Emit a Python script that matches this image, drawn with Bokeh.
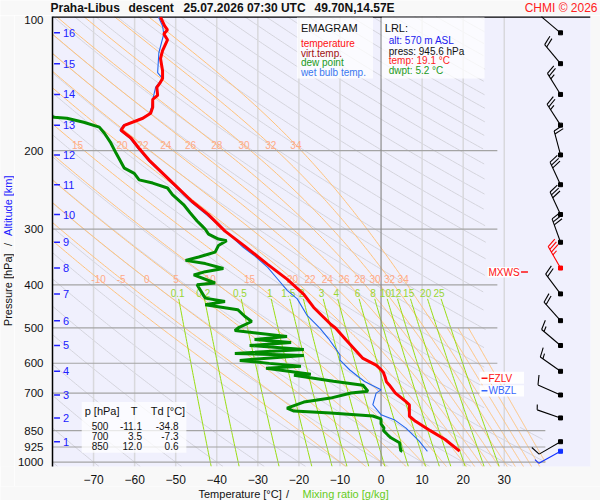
import numpy as np
from bokeh.plotting import figure
from bokeh.layouts import column, row
from bokeh.models import Range1d, FixedTicker, CustomJSTickFormatter
from bokeh.core.properties import value
from bokeh.embed import file_html
from bokeh.resources import INLINE

FONT = "Liberation Sans"

# ---------------- sounding data ----------------
temp_p = [100.3, 105.0, 107.2, 109.4, 112.8, 119.3, 124.3, 132.3, 137.8, 141.3, 144.2, 150.3,
          153.5, 159.9, 164.9, 169.2, 175.5, 180.0, 187.4, 197.3, 210.0, 236.0, 260.1, 278.0,
          303.2, 327.6, 359.5, 388.6, 420.3, 449.7, 491.2, 500.0, 532.3, 585.2, 606.0, 620.0,
          630.0, 645.0, 660.0, 671.0, 700.0, 731.0, 744.0, 789.0, 810.0, 850.0, 890.0, 941.0, 945.6]
temp_t = [-53.7, -52.7, -52.0, -52.9, -52.0, -53.2, -53.7, -53.2, -53.2, -53.9, -54.6, -54.4,
          -55.6, -55.6, -56.1, -58.0, -62.5, -63.3, -60.9, -59.0, -56.5, -50.8, -46.0, -42.1,
          -38.0, -33.2, -27.7, -22.9, -18.8, -16.4, -12.2, -11.1, -8.5, -4.4, -1.2, 0.0,
          0.6, 1.0, 1.3, 2.0, 3.5, 6.0, 6.9, 6.9, 8.4, 12.0, 15.6, 18.9, 19.1]

dewp_p = [166.5, 168.3, 169.2, 172.7, 177.1, 182.6, 192.2, 202.8, 219.0, 224.9, 232.6, 236.5,
          242.6, 251.0, 264.2, 275.6, 287.6, 295.1, 300.2, 307.8, 315.8, 318.5, 326.6, 338.0,
          346.6, 352.6, 358.5, 367.6, 373.8, 380.2, 396.4, 399.8, 428.6, 436.0, 443.4, 455.0,
          470.7, 483.6, 500.0, 506.9, 522.7, 530.8, 539.0, 547.4, 558.7, 570.3, 576.2, 591.2,
          600.4, 609.7, 616.0, 635.2, 638.5, 658.4, 672.1, 693.1, 700.0, 718.4, 733.3, 756.3,
          768.0, 775.9, 787.9, 800.1, 820.9, 837.9, 850.0, 868.5, 881.9, 904.8, 942.8, 945.6]
dewp_t = [-81.0, -79.6, -76.5, -72.4, -68.6, -67.4, -65.8, -64.5, -62.5, -60.1, -58.9, -55.6,
          -52.0, -50.8, -48.1, -46.5, -44.8, -43.6, -42.8, -42.0, -39.6, -37.6, -39.6, -40.4,
          -44.4, -47.6, -42.8, -38.4, -42.8, -45.6, -40.4, -44.8, -42.8, -38.0, -42.8, -34.9,
          -33.2, -31.5, -34.8, -35.6, -22.9, -30.8, -21.9, -32.0, -18.8, -35.6, -18.8, -34.4,
          -27.2, -19.5, -28.0, -17.1, -21.2, -11.6, -4.4, -3.2, -7.3, -12.3, -18.8, -22.9,
          -21.2, -12.3, -2.0, 0.0, 0.0, 0.7, 0.6, 1.6, 2.4, 4.5, 4.8, 5.2]

wetb_p = [100.3, 105.0, 109.4, 120.6, 133.6, 137.8, 144.2, 153.8, 160.0, 165.0, 169.2, 175.5,
          180.0, 187.4, 197.3, 210.0, 236.0, 260.1, 278.0, 300.6, 330.0, 344.5, 365.6, 388.2,
          412.2, 430.2, 468.6, 501.7, 528.1, 560.8, 575.0, 590.3, 621.3, 642.7, 659.4, 688.4,
          700.2, 743.5, 782.6, 803.0, 837.9, 897.0, 944.2, 945.6]
wetb_t = [-54.2, -53.2, -52.9, -54.1, -54.4, -53.2, -54.9, -55.6, -55.9, -56.4, -58.3, -62.8,
          -63.6, -61.2, -59.3, -56.8, -51.1, -46.4, -42.6, -38.3, -33.5, -30.8, -27.6, -25.2,
          -22.8, -20.4, -18.0, -14.8, -12.8, -10.8, -10.0, -10.0, -7.6, -5.6, -4.0, 0.0,
          -1.2, -2.0, 0.0, 3.2, 6.0, 9.3, 11.2, 11.3]

# altitude scale (km -> hPa)
alt_km = [1, 2, 3, 4, 5, 6, 7, 8, 9, 10, 11, 12, 13, 14, 15, 16]
alt_p = [900.0, 796.0, 707.0, 625.5, 547.4, 481.5, 419.3, 366.9, 321.1, 278.2, 238.5, 204.5,
         175.3, 149.6, 127.6, 108.8]

# winds: surface + every km
wind_p = [945.6] + alt_p
wind_dir = [241, 240, 289, 294, 305, 310, 318, 323, 330, 340, 335, 335, 345, 327, 328, 320, 310]
wind_kt = [5, 10, 5, 10, 15, 15, 20, 20, 35, 30, 30, 30, 20, 25, 25, 20, 10]
max_wind_km = 8

# surface (LRL) values
lrl_alt, lrl_p, lrl_t, lrl_td = 570, 945.6, 19.1, 5.2

# table
table_p = [500, 700, 850]
table_t = [-11.1, 3.5, 12.0]
table_td = [-34.8, -7.3, 0.6]

# freezing / wet-bulb-zero levels (hPa)
fzlv_p, wbzl_p = 648.0, 692.0

# tick labels / chart furniture values
pressure_ticks = [100, 200, 300, 400, 500, 600, 700, 850, 925, 1000]
temp_ticks = [-70, -60, -50, -40, -30, -20, -10, 0, 10, 20, 30]
moist_thw = [-10, -5, 0, 5, 10, 15, 20, 22, 24, 26, 28, 30, 32, 34]
moist_low_only = [36, 38, 40]
moist_upper_labels = [15, 20, 22, 24, 26, 28, 30, 32, 34]
mix_ratios = [0.1, 0.2, 0.5, 1, 1.5, 2, 3, 4, 6, 8, 10, 12, 15, 20, 25]
mix_labels = ["0.1", "0.2", "0.5", "1", "1.5", "2", "3", "4", "6", "8", "10", "12", "15", "20", "25"]

# ---------------- layout ----------------
T_MIN, T_MAX = -80.0, 51.0
P_TOP, P_BOT = 100.0, 1023.0
TOTAL_W, TOTAL_H = 600, 500
TOP_H, BOT_H = 15, 14
LEFT_W = 14
MW, MH = TOTAL_W - LEFT_W, TOTAL_H - TOP_H - BOT_H
BL, BR, BT, BB = 31, 10, 1, 17
FW = MW - BL - BR
FH = MH - BT - BB
KX = FW / (T_MAX - T_MIN)
KY = FH / np.log(P_BOT / P_TOP)
BORDER = "#f8f8f8"


def rT(x):  # reference pixel x -> temperature
    return (x - 378.2) / 4.16


def rP(y):  # reference pixel y -> pressure
    return float(100.0 * np.exp((y - 15.5) / 195.0))


def shift(T, pr, dx, dy):
    return T + dx / KX, pr * np.exp(dy / KY)


p = figure(width=MW, height=MH, x_range=Range1d(T_MIN, T_MAX), y_range=Range1d(P_BOT, P_TOP),
           y_axis_type="log", output_backend="svg", toolbar_location=None,
           min_border_left=BL, min_border_right=BR, min_border_top=BT, min_border_bottom=BB,
           background_fill_color="#f0f0fd", border_fill_color=BORDER, outline_line_color=None)
p.xgrid.visible = False
p.ygrid.visible = False

p.xaxis.ticker = FixedTicker(ticks=temp_ticks, minor_ticks=[])
p.xaxis.axis_line_color = None
p.xaxis.major_tick_line_color = None
p.xaxis.minor_tick_line_color = None
p.xaxis.major_label_standoff = 2
p.xaxis.major_label_text_font = FONT
p.xaxis.major_label_text_font_size = "12px"
p.xaxis.major_label_text_color = "#111111"

p.yaxis.ticker = FixedTicker(ticks=pressure_ticks, minor_ticks=[])
p.yaxis.formatter = CustomJSTickFormatter(code="return String(Math.round(tick));")
p.yaxis.axis_line_color = "black"
p.yaxis.axis_line_width = 1.5
p.yaxis.major_tick_line_color = None
p.yaxis.minor_tick_line_color = None
p.yaxis.major_label_standoff = 3
p.yaxis.major_label_text_font = FONT
p.yaxis.major_label_text_font_size = "11.5px"
p.yaxis.major_label_text_color = "#111111"

# ---------------- thermodynamic background ----------------
pp = np.geomspace(P_TOP, P_BOT, 300)

dxs, dys = [], []
for th in range(-80, 320, 10):
    T = (th + 273.15) * (pp / 1000.0) ** 0.2857 - 273.15
    lim = np.where(pp >= 830, 40.0, 25.5)
    T = np.where((T <= lim) & (T >= T_MIN - 5), T, np.nan)
    if np.all(np.isnan(T)):
        continue
    dxs.append(list(T))
    dys.append(list(pp))
p.multi_line(dxs, dys, line_color="#d4d4dc", line_width=1)

iso = [t for t in temp_ticks if t != 0]
p.segment(x0=iso, y0=[P_BOT] * len(iso), x1=iso, y1=[P_TOP] * len(iso),
          line_color="#d8d8dc", line_width=1.5)

Rd, Cp, Lv, EPS = 287.04, 1005.7, 2.501e6, 0.622


def esat(Tk):
    return 6.112 * np.exp(17.67 * (Tk - 273.15) / (Tk - 29.65))


def dTdp(pr, Tk):
    es = esat(Tk)
    rs = EPS * es / (pr - es)
    return (Rd * Tk + Lv * rs) / (pr * (Cp + Lv * Lv * rs * EPS / (Rd * Tk * Tk)))


def integ(ps, T0):
    T = np.empty_like(ps)
    T[0] = T0
    for i in range(1, len(ps)):
        h = ps[i] - ps[i - 1]
        p0, t0 = ps[i - 1], T[i - 1]
        k1 = dTdp(p0, t0)
        k2 = dTdp(p0 + h / 2, t0 + h * k1 / 2)
        k3 = dTdp(p0 + h / 2, t0 + h * k2 / 2)
        k4 = dTdp(p0 + h, t0 + h * k3)
        T[i] = t0 + h * (k1 + 2 * k2 + 2 * k3 + k4) / 6
    return T


def pseudo(thw):
    up = np.linspace(1000.0, 100.0, 361)
    dn = np.linspace(1000.0, 1030.0, 13)
    Tu = integ(up, thw + 273.15)
    Td_ = integ(dn, thw + 273.15)
    ps = np.concatenate([up[::-1], dn[1:]])
    Ts = np.concatenate([Tu[::-1], Td_[1:]]) - 273.15
    return ps, Ts


mxs, mys = [], []
moist_curves = {}
for thw in moist_thw + moist_low_only:
    ps, Ts = pseudo(thw)
    moist_curves[thw] = (ps, Ts)
    Tm = np.where(Ts <= 40.0, Ts, np.nan)
    if thw in moist_low_only:
        Tm = np.where(ps >= 500.0, Tm, np.nan)
    mxs.append(list(Tm))
    mys.append(list(ps))
p.multi_line(mxs, mys, line_color="#ffc27a", line_width=1)

MIX_TOP = rP(300)
pm = np.geomspace(MIX_TOP, P_BOT, 60)


def td_of(w, pr):
    e = w * pr / (622.0 + w)
    l = np.log(e / 6.112)
    return 243.5 * l / (17.67 - l)


wxs, wys = [], []
for w in mix_ratios:
    wxs.append(list(td_of(w, pm)))
    wys.append(list(pm))
p.multi_line(wxs, wys, line_color="#99dd11", line_width=1)

upper_iso = [pr for pr in pressure_ticks if 100 < pr <= 700]
lower_iso = [pr for pr in pressure_ticks if pr > 700]
p.segment(x0=[T_MIN] * len(upper_iso), y0=upper_iso, x1=[rT(496)] * len(upper_iso), y1=upper_iso,
          line_color="#a4a4a4", line_width=1.2)
p.segment(x0=[T_MIN] * len(lower_iso), y0=lower_iso, x1=[40.0] * len(lower_iso), y1=lower_iso,
          line_color="#a4a4a4", line_width=1.2)
p.segment(x0=[0], y0=[P_BOT], x1=[0], y1=[P_TOP], line_color="#8c8c8c", line_width=1.2)
p.segment(x0=[T_MIN], y0=[P_TOP], x1=[T_MAX], y1=[P_TOP], line_color="black", line_width=2.5)


def interp_T(thw, pr):
    ps, Ts = moist_curves[thw]
    return float(np.interp(pr, ps, Ts))


pl_low, pl_up = rP(280), rP(145)
p.text(x=[interp_T(t, pl_low) for t in moist_thw], y=[pl_low] * len(moist_thw),
       text=[str(t) for t in moist_thw], text_color="#ffaa88", text_font=value(FONT),
       text_font_size="10px", text_align="center", text_baseline="middle")
p.text(x=[interp_T(t, pl_up) for t in moist_upper_labels], y=[pl_up] * len(moist_upper_labels),
       text=[str(t) for t in moist_upper_labels], text_color="#ffaa88", text_font=value(FONT),
       text_font_size="10px", text_align="center", text_baseline="middle")
pl_mix = rP(294)
p.text(x=[float(td_of(w, pl_mix)) for w in mix_ratios], y=[pl_mix] * len(mix_ratios),
       text=mix_labels, text_color="#99d633", text_font=value(FONT),
       text_font_size="10px", text_align="center", text_baseline="middle")

# ---------------- boxes & texts ----------------
def box(x0, x1, y0, y1, alpha=0.75):
    p.quad(left=[rT(x0)], right=[rT(x1)], top=[rP(y0)], bottom=[rP(y1)],
           fill_color="white", fill_alpha=alpha, line_color=None)


def txt(x, y, s, color, size="10px", align="left", style="normal"):
    p.text(x=[rT(x)], y=[rP(y)], text=[s], text_color=color, text_font=value(FONT),
           text_font_size=size, text_align=align, text_baseline="middle", text_font_style=style)


box(293, 370, 16.5, 78)
box(379, 483, 16.5, 78)
box(75, 181, 404, 455)

txt(297, 27, "EMAGRAM", "#111111", "11px")
txt(297, 42.3, "temperature", "#ff1111")
txt(297, 52.3, "virt.temp.", "#a01010")
txt(297, 62.3, "dew point", "#1a9a1a")
txt(297, 72.3, "wet bulb temp.", "#3a78f0")

txt(382, 27, "LRL:", "#111111", "11px")
txt(386, 40, f"alt: {lrl_alt} m ASL", "#2020ee")
txt(386, 50.3, f"press: {lrl_p} hPa", "#111111")
txt(386, 60.3, f"temp: {lrl_t} °C", "#ff2222")
txt(386, 70.3, f"dwpt: {lrl_td} °C", "#1a9a1a")

txt(78, 413, "p [hPa]", "#111111", "11px")
txt(128, 413, "T", "#111111", "11px", "center")
txt(145, 413, "Td [°C]", "#111111", "11px")
for i, (pv, tv, dv) in enumerate(zip(table_p, table_t, table_td)):
    yy = 428 + 10 * i
    txt(102, yy, str(pv), "#111111", "10px", "right")
    txt(136, yy, f"{tv:.1f}", "#111111", "10px", "right")
    txt(173, yy, f"{dv:.1f}", "#111111", "10px", "right")

p.segment(x0=[rT(47)] * len(alt_p), y0=alt_p, x1=[rT(53)] * len(alt_p), y1=alt_p,
          line_color="#2020ff", line_width=1.5)
p.text(x=[rT(56)] * len(alt_p), y=alt_p, text=[str(k) for k in alt_km], text_color="#2020ff",
       text_font=value(FONT), text_font_size="11px", text_align="left", text_baseline="middle")

box(478, 523, 373.5, 385.5, 0.9)
box(478, 523, 387, 398.5, 0.9)
fy = 15.5 + 195 * np.log(fzlv_p / 100)
wy = 15.5 + 195 * np.log(wbzl_p / 100)
p.segment(x0=[rT(480)], y0=[fzlv_p], x1=[rT(486)], y1=[fzlv_p], line_color="#ff1111", line_width=1.5)
p.segment(x0=[rT(480)], y0=[wbzl_p], x1=[rT(486)], y1=[wbzl_p], line_color="#3366ff", line_width=1.5)
txt(487, fy, "FZLV", "#ff1111")
txt(487, wy, "WBZL", "#3366ff")

mx_p = alt_p[alt_km.index(max_wind_km)]
my = 15.5 + 195 * np.log(mx_p / 100) + 4
box(486, 518, my - 5, my + 5.5, 0.9)
txt(487, my, "MXWS", "#ff1111")
p.segment(x0=[rT(520)], y0=[rP(my)], x1=[rT(527)], y1=[rP(my)], line_color="#ff1111", line_width=1.5)

# ---------------- sounding curves ----------------
p.line(wetb_t, wetb_p, line_color="#2266ee", line_width=1.1)
p.line(dewp_t, dewp_p, line_color="#008a00", line_width=3)
p.line(temp_t, temp_p, line_color="#ff0000", line_width=3)

# ---------------- wind barbs ----------------
TB = rT(560)
sx0, sy0, sx1, sy1, scol = [], [], [], [], []
dot_col = []
for k, (pw, d, s) in enumerate(zip(wind_p, wind_dir, wind_kt)):
    if k == 0:
        col = "#1030ff"
    elif alt_km[k - 1] == max_wind_km:
        col = "#ff0000"
    else:
        col = "#000000"
    dot_col.append(col)
    th = np.deg2rad(d)
    ux, uy = np.sin(th), -np.cos(th)
    qx, qy = -uy, ux
    lean = np.deg2rad(18)
    bx = qx * np.cos(lean) + ux * np.sin(lean)
    by = qy * np.cos(lean) + uy * np.sin(lean)
    L = 25.0
    pieces = [(0.0, 0.0, L * ux, L * uy)]
    n10, n5 = s // 10, (s % 10) // 5
    pos = L
    for _ in range(n10):
        ax, ay = pos * ux, pos * uy
        pieces.append((ax, ay, ax + 10 * bx, ay + 10 * by))
        pos -= 3.2
    for _ in range(n5):
        ax, ay = pos * ux, pos * uy
        pieces.append((ax, ay, ax + 5.5 * bx, ay + 5.5 * by))
        pos -= 3.2
    for (a0, b0, a1, b1) in pieces:
        x0, y0 = shift(TB, pw, a0, b0)
        x1, y1 = shift(TB, pw, a1, b1)
        sx0.append(x0); sy0.append(y0); sx1.append(x1); sy1.append(y1); scol.append(col)
p.segment(x0=sx0, y0=sy0, x1=sx1, y1=sy1, line_color=scol, line_width=1.1)
p.scatter(x=[TB] * len(wind_p), y=wind_p, marker="square", size=4, fill_color=dot_col, line_color=dot_col)


# ---------------- title / axis-title strips ----------------
def strip(w, h):
    f = figure(width=w, height=h, x_range=Range1d(0, w), y_range=Range1d(0, h),
               output_backend="svg", toolbar_location=None, min_border=0,
               x_axis_location=None, y_axis_location=None,
               background_fill_color=BORDER, border_fill_color=BORDER, outline_line_color=None)
    f.xgrid.visible = False
    f.ygrid.visible = False
    return f


def stxt(f, x, y, s, color="#111111", size="12px", style="normal", align="left", angle=0.0):
    f.text(x=[x], y=[y], text=[s], text_color=color, text_font=value(FONT), text_font_size=size,
           text_font_style=style, text_align=align, text_baseline="middle", angle=angle)


top = strip(TOTAL_W, TOP_H)
ty = TOP_H - 7.5
stxt(top, 50, ty, "Praha-Libus", style="bold")
stxt(top, 128, ty, "descent", style="bold")
stxt(top, 183, ty, "25.07.2026 07:30 UTC", style="bold")
stxt(top, 314, ty, "49.70N,14.57E", style="bold")
stxt(top, 597, ty, "CHMI © 2026", color="#ff2020", align="right")

bot = strip(TOTAL_W, BOT_H)
by_ = 7
stxt(bot, 198, by_, "Temperature [°C]", size="11px")
stxt(bot, 287, by_, "/", size="11px", align="center")
stxt(bot, 302, by_, "Mixing ratio [g/kg]", color="#66cc22", size="11px")

left = strip(LEFT_W, MH)


def left_y(page_y):
    return TOP_H + MH - page_y


lx = 7
stxt(left, lx, left_y(301), "Pressure [hPa]", size="11px", align="center", angle=np.pi / 2)
stxt(left, lx, left_y(253.5), "/", size="11px", align="center", angle=np.pi / 2)
stxt(left, lx, left_y(213), "Altitude [km]", color="#2020ff", size="11px", align="center", angle=np.pi / 2)

layout = column(top, row(left, p, spacing=0), bot, spacing=0)
open("out.html", "w").write(file_html(layout, INLINE))
